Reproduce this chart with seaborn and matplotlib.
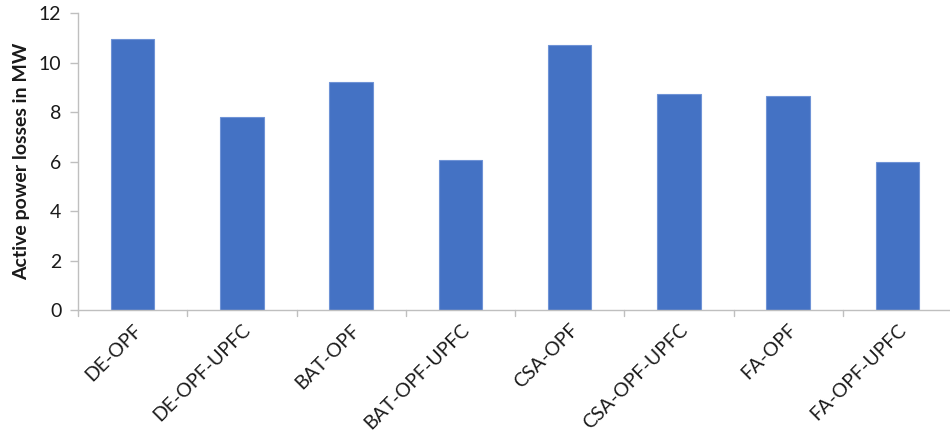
import matplotlib
matplotlib.use("Agg")
import matplotlib.pyplot as plt
import seaborn as sns
import pandas as pd

methods = ["DE-OPF", "DE-OPF-UPFC", "BAT-OPF", "BAT-OPF-UPFC",
           "CSA-OPF", "CSA-OPF-UPFC", "FA-OPF", "FA-OPF-UPFC"]
losses_mw = [10.94, 7.79, 9.20, 6.05, 10.71, 8.72, 8.66, 5.98]
y_ticks = [0, 2, 4, 6, 8, 10, 12]

sns.set_theme(style="white")
plt.rcParams["font.family"] = ["Lato", "DejaVu Sans"]

df = pd.DataFrame({"method": methods, "loss": losses_mw})

fig = plt.figure(figsize=(9.5, 4.36), dpi=100)
ax = fig.add_axes([78 / 950, 1 - 310 / 436, 874 / 950, (310 - 13) / 436])

sns.barplot(data=df, x="method", y="loss", color="#4472C4", width=0.4,
            saturation=1, edgecolor="#6F93D6", linewidth=0.8, ax=ax)

ax.set_xlim(-0.5, len(methods) - 0.5)
ax.set_ylim(0, 12)
ax.set_yticks(y_ticks)
ax.set_yticklabels([str(t) for t in y_ticks], fontsize=14, color="#1a1a1a")

ax.set_xticks(range(len(methods)))
ax.set_xticklabels(methods, rotation=45, ha="right", va="top",
                   rotation_mode="anchor", fontsize=14, color="#1a1a1a")
ax.tick_params(axis="x", length=0, pad=8)
ax.tick_params(axis="y", length=6, width=1, color="#BFBFBF", left=True, pad=6)

# category boundary ticks along the bottom axis
for b in [i - 0.5 for i in range(len(methods))]:
    ax.plot([b, b], [0, -0.25], color="#BFBFBF", lw=1, clip_on=False)

ax.set_xlabel("")
ax.set_ylabel("Active power losses in MW", fontsize=14, fontweight="bold",
              color="#1a1a1a", labelpad=6)

for side in ["top", "right"]:
    ax.spines[side].set_visible(False)
for side in ["left", "bottom"]:
    ax.spines[side].set_color("#BFBFBF")
    ax.spines[side].set_linewidth(1)

fig.savefig("out.png", dpi=100)
